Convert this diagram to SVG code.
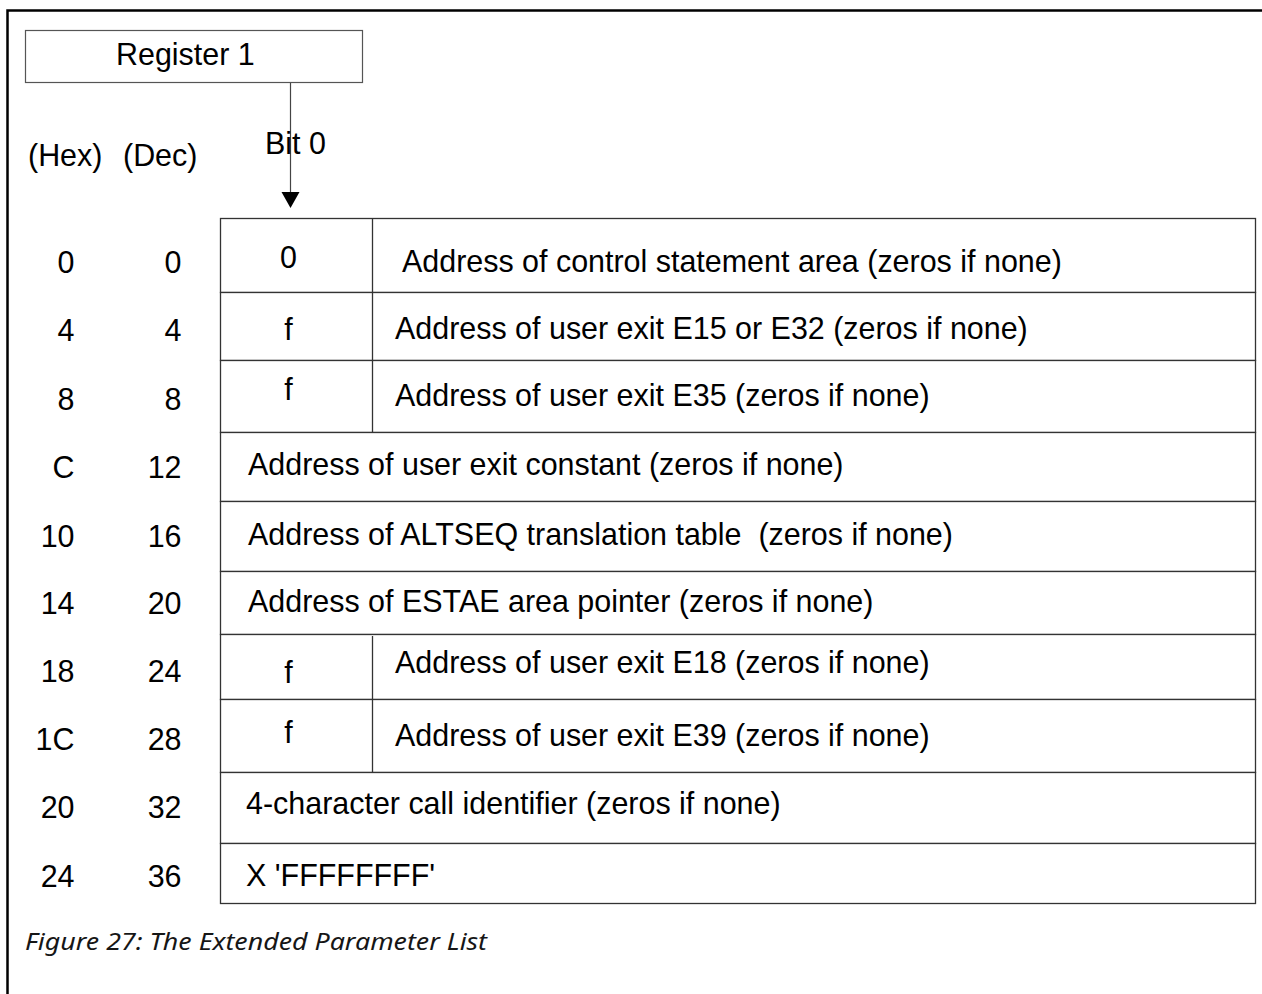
<svg xmlns="http://www.w3.org/2000/svg" width="1262" height="994" viewBox="0 0 1262 994">
<style>
.t{font-family:"Liberation Sans",Arial,sans-serif;font-size:30.45px;fill:#000}
.m{text-anchor:middle}
.e{text-anchor:end}
.cell{fill:#fff;stroke:#333;stroke-width:1.3}
.div{stroke:#333;stroke-width:1.3;fill:none}
.frame{stroke:#000;stroke-width:2.5;fill:none}
.conn{stroke:#444;stroke-width:1.2;fill:none}
.cap{font-family:"Noto Sans","Open Sans",sans-serif;font-style:italic;font-size:23px;fill:#161616}
</style>
<defs>
<marker id="arr" markerUnits="userSpaceOnUse" markerWidth="16" markerHeight="20" refX="8" refY="10" orient="auto">
<path d="M0,1 L16,10 L0,19 Z" fill="#000"/>
</marker>
</defs>
<rect width="1262" height="994" fill="#fff"/>
<path class="frame" d="M7.5,994 V10.5 H1262"/>

<g id="register1">
<rect x="25.5" y="30.5" width="337" height="52" fill="#fff" stroke="#555" stroke-width="1.2"/>
<text class="t" x="116" y="65">Register 1</text>
</g>

<g id="headers">
<text class="t" x="28" y="166">(Hex)</text>
<text class="t" x="123" y="166">(Dec)</text>
</g>

<g id="connectors">
<line class="conn" x1="290.5" y1="83" x2="290.5" y2="200" marker-end="url(#arr)"/>
</g>
<g id="bit0-label">
<text class="t" x="265" y="154">Bit 0</text>
</g>

<g id="row0">
<rect class="cell" x="220.5" y="218.5" width="1035" height="74"/>
<line class="div" x1="372.5" y1="218.5" x2="372.5" y2="292.5"/>
<text class="t e" x="74.5" y="273">0</text>
<text class="t e" x="181.5" y="273">0</text>
<text class="t m" x="288.5" y="268">0</text>
<text class="t" x="402" y="272">Address of control statement area (zeros if none)</text>
</g>
<g id="row1">
<rect class="cell" x="220.5" y="292.5" width="1035" height="68"/>
<line class="div" x1="372.5" y1="292.5" x2="372.5" y2="360.5"/>
<text class="t e" x="74.5" y="341">4</text>
<text class="t e" x="181.5" y="341">4</text>
<text class="t m" x="288.5" y="340">f</text>
<text class="t" x="395" y="339">Address of user exit E15 or E32 (zeros if none)</text>
</g>
<g id="row2">
<rect class="cell" x="220.5" y="360.5" width="1035" height="72"/>
<line class="div" x1="372.5" y1="360.5" x2="372.5" y2="432.5"/>
<text class="t e" x="74.5" y="410">8</text>
<text class="t e" x="181.5" y="410">8</text>
<text class="t m" x="288.5" y="400">f</text>
<text class="t" x="395" y="406">Address of user exit E35 (zeros if none)</text>
</g>
<g id="row3">
<rect class="cell" x="220.5" y="432.5" width="1035" height="69"/>
<text class="t e" x="74.5" y="478">C</text>
<text class="t e" x="181.5" y="478">12</text>
<text class="t" x="248" y="475">Address of user exit constant (zeros if none)</text>
</g>
<g id="row4">
<rect class="cell" x="220.5" y="501.5" width="1035" height="70"/>
<text class="t e" x="74.5" y="547">10</text>
<text class="t e" x="181.5" y="547">16</text>
<text class="t" x="248" y="545" xml:space="preserve">Address of ALTSEQ translation table  (zeros if none)</text>
</g>
<g id="row5">
<rect class="cell" x="220.5" y="571.5" width="1035" height="63"/>
<text class="t e" x="74.5" y="614">14</text>
<text class="t e" x="181.5" y="614">20</text>
<text class="t" x="248" y="612">Address of ESTAE area pointer (zeros if none)</text>
</g>
<g id="row6">
<rect class="cell" x="220.5" y="634.5" width="1035" height="65"/>
<line class="div" x1="372.5" y1="636" x2="372.5" y2="699.5"/>
<text class="t e" x="74.5" y="682">18</text>
<text class="t e" x="181.5" y="682">24</text>
<text class="t m" x="288.5" y="683">f</text>
<text class="t" x="395" y="673">Address of user exit E18 (zeros if none)</text>
</g>
<g id="row7">
<rect class="cell" x="220.5" y="699.5" width="1035" height="73"/>
<line class="div" x1="372.5" y1="699.5" x2="372.5" y2="772.5"/>
<text class="t e" x="74.5" y="750">1C</text>
<text class="t e" x="181.5" y="750">28</text>
<text class="t m" x="288.5" y="743">f</text>
<text class="t" x="395" y="746">Address of user exit E39 (zeros if none)</text>
</g>
<g id="row8">
<rect class="cell" x="220.5" y="772.5" width="1035" height="71"/>
<text class="t e" x="74.5" y="818">20</text>
<text class="t e" x="181.5" y="818">32</text>
<text class="t" x="246" y="814">4-character call identifier (zeros if none)</text>
</g>
<g id="row9">
<rect class="cell" x="220.5" y="843.5" width="1035" height="60"/>
<text class="t e" x="74.5" y="887">24</text>
<text class="t e" x="181.5" y="887">36</text>
<text class="t" x="246" y="886">X 'FFFFFFFF'</text>
</g>

<g id="caption">
<text class="cap" x="25" y="950" textLength="462" lengthAdjust="spacingAndGlyphs">Figure 27: The Extended Parameter List</text>
</g>
</svg>
